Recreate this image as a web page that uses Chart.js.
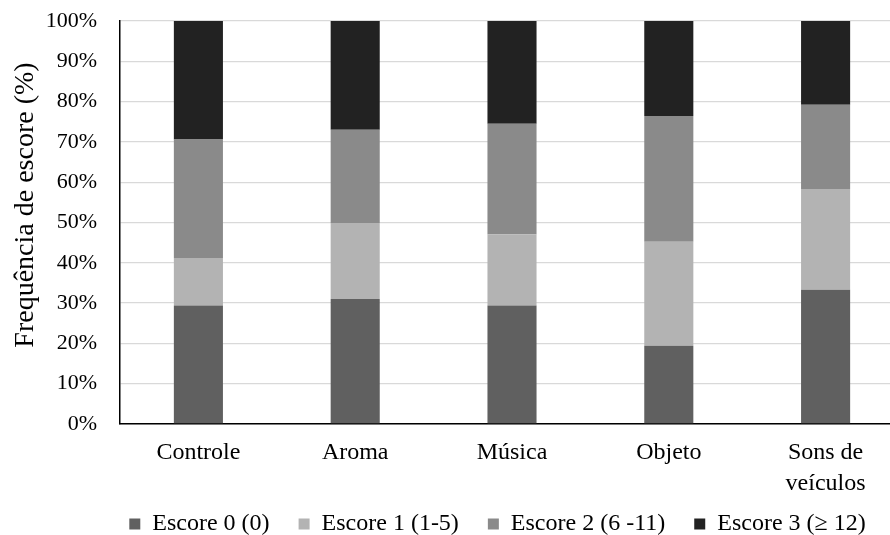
<!DOCTYPE html>
<html>
<head>
<meta charset="utf-8">
<script src="https://cdn.jsdelivr.net/npm/chart.js@4/dist/chart.umd.min.js"></script>
<style>
  html, body { margin: 0; padding: 0; background: #fff; overflow: hidden; }
</style>
</head>
<body>
<canvas id="myChart" width="904" height="535"></canvas>
<script>
// categories and score shares (%)
var categories = ['Controle', 'Aroma', 'Música', 'Objeto', ['Sons de', 'veículos']];
var escore0 = [29.4, 31.0, 29.4, 19.4, 33.3];
var escore1 = [11.8, 18.9, 17.7, 25.8, 25.0];
var escore2 = [29.4, 23.1, 27.4, 31.2, 20.9];
var escore3 = [29.4, 27.0, 25.5, 23.6, 20.8];
var seriesNames = ['Escore 0 (0)', 'Escore 1 (1-5)', 'Escore 2 (6 -11)', 'Escore 3 (\u2265 12)'];
var yTicks = [0, 10, 20, 30, 40, 50, 60, 70, 80, 90, 100];

var FONT = "'Liberation Serif', 'Times New Roman', serif";

// legend sits a bit right of the canvas centre and low in the original
const placeLegend = {
    id: 'placeLegend',
    afterLayout(chart) {
        chart.legend.left += 91;
        chart.legend.top = 483;
        chart.legend.bottom = 535;
    }
};

const GRAPH = document.getElementById('myChart');
const barGraph = new Chart(GRAPH, {
    type: 'bar',
    data: {
        labels: categories,
        datasets: [
            { label: seriesNames[0], data: escore0, backgroundColor: '#606060' },
            { label: seriesNames[1], data: escore1, backgroundColor: '#b3b3b3' },
            { label: seriesNames[2], data: escore2, backgroundColor: '#8a8a8a' },
            { label: seriesNames[3], data: escore3, backgroundColor: '#222222' }
        ]
    },
    options: {
        responsive: false,
        animation: false,
        layout: { padding: { top: 21, bottom: 0, left: 0, right: 0 } },
        datasets: {
            bar: { categoryPercentage: 1, barPercentage: 0.313, borderWidth: 0 }
        },
        scales: {
            x: {
                stacked: true,
                grid: { display: false, drawTicks: false },
                border: { color: '#000', width: 1.5 },
                ticks: {
                    color: '#000',
                    padding: 13,
                    maxRotation: 0,
                    font: { family: FONT, size: 24, lineHeight: 1.3 }
                },
                afterFit: function (scale) { scale.height = 90; }
            },
            y: {
                stacked: true,
                min: 0,
                max: 100,
                afterBuildTicks: function (scale) {
                    scale.ticks = yTicks.map(function (v) { return { value: v }; });
                },
                grid: { color: '#d9d9d9', lineWidth: 1.3, drawTicks: false },
                border: { color: '#000', width: 1.5 },
                ticks: {
                    color: '#000',
                    padding: 23,
                    font: { family: FONT, size: 22 },
                    callback: function (v) { return v + '%'; }
                },
                title: {
                    display: true,
                    text: '\u00a0\u00a0\u00a0\u00a0\u00a0Frequência de escore (%)',
                    color: '#000',
                    padding: { top: 9, bottom: 0 },
                    font: { family: FONT, size: 28 }
                },
                afterFit: function (scale) {
                    scale.width = 120;
                    scale.paddingTop = 0;
                    scale.paddingBottom = 0;
                }
            }
        },
        plugins: {
            legend: {
                position: 'bottom',
                maxHeight: 21,
                labels: {
                    color: '#000',
                    boxWidth: 11,
                    boxHeight: 11,
                    padding: 29,
                    font: { family: FONT, size: 24 }
                }
            },
            tooltip: { enabled: false }
        }
    },
    plugins: [placeLegend]
});
</script>
</body>
</html>
